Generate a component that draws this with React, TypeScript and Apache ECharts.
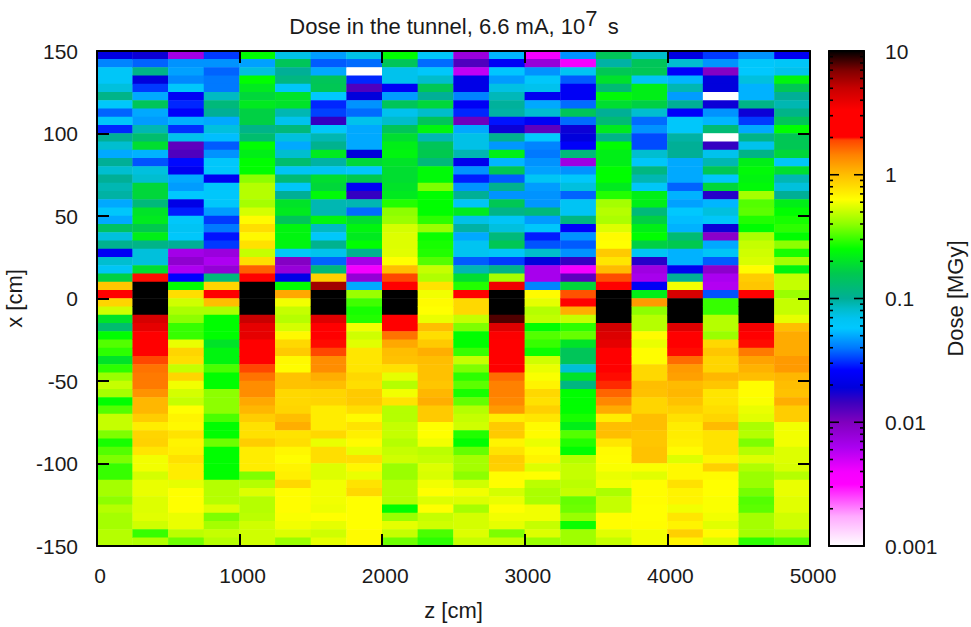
import React, { useEffect, useRef } from "react";
import * as echarts from "echarts";

const FONT = "Liberation Sans";
const TEXT = "#1a1a1a";

const zBins = [125, 375, 625, 875, 1125, 1375, 1625, 1875, 2125, 2375, 2625, 2875, 3125, 3375, 3625, 3875, 4125, 4375, 4625, 4875];

// Dose per column, from x = 147.5 (top) down to x = -147.5 (bottom). 12 = above the scale, 0.001 = below it.
const col0 = [.02,.042,.063,.063,.076,.11,.06,.037,.06,.03,.1,.08,.05,.1,.08,.1,.09,.095,.05,.06,.05,.14,.075,.105,.024,.08,.065,.17,.95,2.2,
  .85,.52,.2,.13,.25,.33,.29,.2,.29,.42,.5,.44,.25,.33,.5,.5,.38,.27,.33,.38,.3,.3,.44,.44,.4,.47,.44,.44,.47,.47];
const col1 = [.018,.037,.11,.019,.032,.05,.15,.05,.047,.09,.13,.19,.052,.035,.075,.08,.18,.18,.12,.2,.21,.16,.22,.11,.076,.076,.19,2,12,12,
  12,12,4.5,4,3.3,2.6,2.6,1.9,1.55,1.5,1.5,1.3,1.05,1.05,.9,.72,.85,.87,.75,.6,.6,.53,.58,.58,.55,.55,.56,.52,.3,.46];
const col2 = [.007,.045,.048,.043,.06,.024,.03,.025,.052,.031,.07,.012,.013,.027,.023,.05,.047,.058,.021,.029,.06,.066,.06,.1,.0068,.0085,.0062,.026,.25,.8,
  .52,.45,.4,.3,.3,.58,.85,.8,.5,.85,.6,.53,.5,.63,.68,.66,.77,.68,.7,.78,.72,.72,.57,.63,.63,.63,.58,.58,.48,.36];
const col3 = [.032,.045,.037,.04,.04,.085,.12,.1,.05,.075,.055,.036,.045,.06,.06,.023,.06,.06,.06,.047,.032,.04,.028,.032,.0075,.0062,.008,.12,.85,3.2,
  1,.45,.25,.25,.25,.2,.23,.23,.32,.25,.25,.4,.4,.4,.32,.25,.25,.36,.25,.25,.25,.25,.47,.47,.47,.55,.38,.44,.5,.47];
const col4 = [.25,.048,.075,.25,.21,.18,.21,.17,.17,.11,.13,.25,.22,.25,.25,.4,.47,.47,.44,.53,.65,.8,.66,.78,.5,.8,1.7,2.3,12,12,
  12,12,5,4,4,2.6,2.6,2.6,1.9,1.55,1.35,1.35,1.15,1.05,.9,.78,.78,.9,.72,.72,.72,.38,.47,.55,.47,.47,.48,.52,.52,.52];
const col5 = [.072,.15,.1,.115,.063,.2,.2,.09,.07,.12,.075,.05,.08,.13,.066,.125,.063,.1,.2,.21,.15,.23,.23,.23,.063,.0095,.0078,.021,.25,1.15,
  .6,.5,.47,.53,.66,.83,.92,.66,.64,.97,.97,.83,.83,.85,1,1.1,.77,.8,.67,.64,.68,.7,.83,.64,.64,.64,.62,.6,.55,.42];
const col6 = [.047,.036,.05,.15,.155,.058,.03,.033,.015,.06,.09,.105,.21,.095,.067,.19,.18,.24,.09,.09,.23,.085,.06,.105,.07,.037,.12,.88,6,12,
  12,12,4.2,2.6,2.6,2,1.9,1.35,1.35,1.1,1,.85,.85,.72,.72,.72,.83,.58,.8,.8,.55,.55,.6,.6,.6,.59,.63,.57,.52,.57];
const col7 = [.072,.038,.001,.03,.013,.019,.045,.038,.07,.05,.05,.05,.019,.18,.06,.16,.024,.015,.09,.038,.19,.23,.21,.25,.105,.0068,.004,.008,.05,.42,
  .31,.27,.28,.6,.52,.56,.75,.75,.76,.83,.8,.92,.92,.8,.65,.77,.7,.65,.57,.8,.67,.58,.77,.83,.63,.63,.63,.63,.65,.65];
const col8 = [.25,.15,.07,.07,.024,.047,.15,.07,.082,.15,.19,.22,.23,.2,.19,.19,.2,.21,.28,.4,.42,.53,.55,.55,.56,.63,1,1.9,2.4,12,
  12,12,2.5,2.5,1.55,1.15,1,.97,.78,.57,.47,.6,.77,.47,.47,.5,.5,.47,.5,.52,.42,.42,.47,.47,.47,.25,.42,.57,.5,.36];
const col9 = [.06,.038,.06,.082,.155,.1,.18,.082,.15,.23,.09,.15,.16,.12,.24,.24,.38,.25,.25,.25,.29,.42,.26,.27,.28,.33,.5,.46,.77,.6,
  .65,.63,.58,1,.8,.92,1.1,1,.98,.98,.95,1.05,1.1,.92,.92,.63,.63,.6,.48,.5,.55,.54,.6,.63,.55,.63,.5,.52,.32,.29];
const col10 = [.0075,.013,.0055,.021,.021,.042,.024,.03,.011,.05,.072,.072,.09,.022,.045,.029,.045,.1,.065,.21,.072,.095,.05,.068,.068,.036,.09,.19,.28,2.4,
  .83,.83,.5,.38,.25,.25,.3,.5,.38,.29,.34,.27,.35,.47,.5,.52,.28,.25,.35,.44,.44,.4,.52,.6,.55,.44,.53,.53,.55,.5];
const col11 = [.053,.024,.057,.047,.073,.088,.098,.095,.028,.018,.105,.046,.22,.053,.155,.036,.105,.045,.155,.11,.064,.075,.12,.155,.063,.032,.11,.44,3.7,12,
  12,12,8,4.2,3.4,2.6,2.6,2.6,2.6,1.6,1.45,1.45,1.4,1.25,.72,.92,.92,.68,.77,.9,.88,.64,.64,.53,.58,.63,.6,.57,.38,.5];
const col12 = [.004,.0078,.045,.06,.07,.023,.05,.08,.024,.012,.058,.042,.04,.045,.048,.065,.047,.045,.046,.12,.047,.06,.029,.035,.082,.019,.0065,.0065,.042,.65,
  .57,.47,.49,.25,.33,.3,.26,.52,.58,.62,.68,.83,.78,.88,.75,.65,.65,.58,.64,.68,.55,.63,.48,.45,.45,.6,.6,.5,.55,.42];
const col13 = [.045,.004,.067,.036,.024,.024,.038,.15,.038,.018,.019,.025,.12,.0072,.045,.06,.075,.037,.066,.066,.115,.025,.045,.036,.045,.015,.004,.012,.18,1.8,
  2.4,1.1,.5,.29,.35,.2,.15,.15,.078,.2,.115,.25,.25,.25,.27,.22,.33,.28,.25,.47,.5,.5,.48,.5,.35,.36,.42,.26,.43,.43];
const col14 = [.15,.095,.155,.195,.125,.24,.19,.1,.125,.21,.11,.25,.22,.22,.25,.25,.21,.28,.44,.47,.45,.55,.65,.63,.92,.75,1.02,1.85,2.4,12,
  12,12,12,4.7,4.3,4,2.7,2.7,2.5,2,1.95,1.65,1.4,1.12,.72,1,1,.75,.65,.64,.62,.58,.6,.45,.5,.5,.64,.64,.56,.5];
const col15 = [.082,.15,.155,.066,.22,.22,.17,.08,.038,.045,.034,.034,.08,.062,.115,.09,.063,.22,.22,.12,.17,.22,.25,.17,.065,.016,.0072,.0065,.024,.22,
  1.25,.4,.47,.47,.65,.58,.64,.64,.83,.83,1,.98,.85,.85,1,1,.95,.95,.97,.97,.62,.56,.64,.64,.64,.63,.63,.64,.6,.6];
const col16 = [.02,.08,.025,.053,.09,.047,.1,.025,.06,.06,.095,.1,.1,.05,.05,.05,.037,.052,.048,.058,.055,.052,.125,.16,.052,.052,.023,.1,.6,4.5,
  12,12,12,4.2,3.3,2.6,2,1.6,1.25,1.2,1.02,1.05,.97,.88,.78,.72,.72,.7,.65,.55,.66,.66,.78,.68,.68,.6,.75,.68,.88,.68];
const col17 = [.032,.045,.0095,.019,.019,.001,.018,.045,.053,.125,.001,.015,.07,.09,.155,.06,.18,.016,.053,.075,.062,.018,.009,.05,.064,.036,.0088,.0063,.006,.035,
  .3,.3,.47,.47,.42,.83,.95,.85,.85,1.05,.95,.76,.76,.8,.85,1.02,.77,.77,.77,.68,.88,.65,.63,.63,.62,.62,.6,.56,.65,.55];
const col18 = [.045,.06,.058,.075,.052,.052,.11,.018,.032,.05,.11,.07,.11,.22,.24,.23,.24,.44,.33,.34,.28,.25,.45,.5,.52,.54,.64,.9,.95,2.4,
  12,12,12,3.6,2.6,2,1.5,1.18,1.08,1,.64,.64,.62,.58,.56,.45,.47,.38,.47,.55,.46,.42,.42,.37,.33,.34,.44,.44,.44,.29];
const col19 = [.023,.063,.07,.23,.155,.1,.09,.11,.15,.25,.155,.155,.18,.063,.19,.09,.076,.1,.22,.25,.27,.29,.25,.4,.27,.44,.23,.5,.5,.42,
  .5,.5,.57,1,1.12,1.12,1.12,1.25,1.25,1.05,1,.97,1.1,.9,.9,.6,.6,.6,.55,.55,.54,.47,.58,.58,.56,.56,.52,.52,.45,.33];

const columns = [col0, col1, col2, col3, col4, col5, col6, col7, col8, col9, col10, col11, col12, col13, col14, col15, col16, col17, col18, col19];

const cbMajor = [0.001, 0.01, 0.1, 1, 10];
const cbMinor = [2, 3, 4, 5, 6, 7, 8, 9];

// Palette: position on the log scale (0 = 0.001, 1 = 10) and colour.
const paletteStops: [number, number[]][] = [
  [0, [255, 255, 255]], [0.06, [255, 170, 255]], [0.125, [255, 0, 255]], [0.15, [245, 0, 255]],
  [0.2, [170, 0, 240]], [0.25, [128, 0, 190]], [0.29, [60, 0, 190]], [0.32, [0, 0, 220]],
  [0.355, [0, 0, 255]], [0.4, [0, 120, 255]], [0.44, [0, 200, 255]], [0.46, [0, 195, 240]],
  [0.48, [0, 188, 200]], [0.5, [0, 175, 150]], [0.55, [0, 200, 80]], [0.6, [0, 255, 0]],
  [0.65, [140, 255, 0]], [0.7, [255, 255, 0]], [0.75, [255, 190, 0]], [0.79, [255, 130, 0]],
  [0.82, [255, 70, 0]], [0.826, [255, 0, 0]], [0.88, [255, 0, 0]], [0.925, [200, 0, 0]],
  [0.96, [130, 0, 0]], [1, [0, 0, 0]],
];

function paletteAt(t: number): string {
  for (let i = 1; i < paletteStops.length; i++) {
    const [t1, c1] = paletteStops[i];
    const [t0, c0] = paletteStops[i - 1];
    if (t <= t1) {
      const f = (t - t0) / (t1 - t0);
      return `rgb(${c0.map((v, k) => Math.round(v + (c1[k] - v) * f)).join(",")})`;
    }
  }
  return "rgb(0,0,0)";
}

const inRangeColors = Array.from({ length: 401 }, (_, i) => paletteAt(i / 400));

const cellData: number[][] = [];
columns.forEach((col, i) => {
  col.forEach((dose, k) => {
    const level = Math.max(-3, Math.min(1, Math.log10(dose)));
    cellData.push([zBins[i], 147.5 - k * 5, dose, level]);
  });
});

const renderCell = (_: any, api: any) => {
  const p = api.coord([api.value(0), api.value(1)]);
  const s = api.size([250, 5]);
  return {
    type: "rect",
    shape: { x: p[0] - s[0] / 2 - 0.2, y: p[1] - s[1] / 2 - 0.2, width: s[0] + 0.4, height: s[1] + 0.4 },
    style: { fill: api.visual("color") },
  };
};

const renderBar = (params: any, api: any) => {
  const a = api.coord([0, 10]);
  const b = api.coord([1, 0.001]);
  const colorStops = paletteStops.map(([t, c]) => ({ offset: 1 - t, color: `rgb(${c.join(",")})` })).reverse();
  return {
    type: "rect",
    shape: { x: a[0], y: a[1], width: b[0] - a[0], height: b[1] - a[1] },
    style: { fill: new echarts.graphic.LinearGradient(0, 0, 0, 1, colorStops) },
  };
};

const renderCbTick = (_: any, api: any) => {
  const v = api.value(0);
  const len = api.value(1);
  const y = api.coord([0, v])[1];
  const l = api.coord([0, v])[0];
  const r = api.coord([1, v])[0];
  const style = { stroke: "#000", lineWidth: 1.6 };
  return {
    type: "group",
    children: [
      { type: "line", shape: { x1: l, y1: y, x2: l + len, y2: y }, style },
      { type: "line", shape: { x1: r, y1: y, x2: r - len, y2: y }, style },
    ],
  };
};

const cbTickData: number[][] = [];
cbMajor.forEach((m) => cbTickData.push([m, 10]));
cbMajor.slice(0, 4).forEach((m) => cbMinor.forEach((n) => cbTickData.push([m * n, 4])));

export default function App() {
  const ref = useRef<HTMLDivElement>(null);
  useEffect(() => {
    const chart = echarts.init(ref.current!, null, { renderer: "svg" });
    const SIZE = 21;
    const NAME_SIZE = 22;
    const labelStyle = { fontFamily: FONT, fontSize: SIZE, color: TEXT };
    const nameStyle = { fontFamily: FONT, fontSize: NAME_SIZE, color: TEXT, fontWeight: "normal" };
    const frameLine = { show: true, onZero: false, lineStyle: { color: "#000", width: 2 } };
    const inTick = { show: true, inside: true, length: 12, lineStyle: { color: "#000", width: 2 } };
    const option: any = {
      animation: false,
      backgroundColor: "#fff",
      title: {
        text: "{t|Dose in the tunnel, 6.6 mA, 10}{s|7}{t| s}",
        left: 449,
        top: 2,
        textAlign: "center",
        textStyle: {
          fontWeight: "normal",
          rich: {
            t: { fontFamily: FONT, fontSize: NAME_SIZE, fontWeight: "normal", color: TEXT, lineHeight: 30, verticalAlign: "bottom" },
            s: { fontFamily: FONT, fontSize: NAME_SIZE, fontWeight: "normal", color: TEXT, lineHeight: 30, padding: [0, 4, 8, 0], verticalAlign: "bottom" },
          },
        },
      },
      grid: [
        { left: 97, top: 51, width: 713, height: 495, outerBoundsMode: "none" },
        { left: 829, top: 51, width: 35, height: 495, outerBoundsMode: "none" },
      ],
      xAxis: [
        {
          type: "value", gridIndex: 0, min: 0, max: 5000, interval: 1000, position: "bottom", z: 10,
          axisLine: frameLine, axisTick: inTick, splitLine: { show: false },
          axisLabel: { ...labelStyle, margin: 19, padding: [0, 0, 0, 6], showMaxLabel: true, showMinLabel: true, formatter: (v: number) => String(v) },
          name: "z [cm]", nameLocation: "middle", nameGap: 53, nameTextStyle: nameStyle,
        },
        {
          type: "value", gridIndex: 0, min: 0, max: 5000, interval: 1000, position: "top", z: 10,
          axisLine: frameLine, axisTick: inTick, axisLabel: { show: false }, splitLine: { show: false },
        },
        {
          type: "value", gridIndex: 1, min: 0, max: 1, position: "bottom", z: 10,
          axisLine: frameLine, axisTick: { show: false }, axisLabel: { show: false }, splitLine: { show: false },
        },
        {
          type: "value", gridIndex: 1, min: 0, max: 1, position: "top", z: 10,
          axisLine: frameLine, axisTick: { show: false }, axisLabel: { show: false }, splitLine: { show: false },
        },
      ],
      yAxis: [
        {
          type: "value", gridIndex: 0, min: -150, max: 150, interval: 50, position: "left", z: 10,
          axisLine: frameLine, axisTick: inTick, splitLine: { show: false },
          axisLabel: { ...labelStyle, margin: 19 },
          name: "x [cm]", nameLocation: "middle", nameGap: 67, nameRotate: 90, nameTextStyle: nameStyle,
        },
        {
          type: "value", gridIndex: 0, min: -150, max: 150, interval: 50, position: "right", z: 10,
          axisLine: frameLine, axisTick: inTick, axisLabel: { show: false }, splitLine: { show: false },
        },
        {
          type: "log", logBase: 10, gridIndex: 1, min: 0.001, max: 10, position: "right", z: 10,
          axisLine: frameLine, axisTick: { show: false }, splitLine: { show: false },
          axisLabel: { ...labelStyle, margin: 21, formatter: (v: number) => String(Number(v.toPrecision(1))) },
          name: "Dose [MGy]", nameLocation: "middle", nameGap: 80, nameRotate: 90, nameTextStyle: nameStyle,
        },
        {
          type: "log", logBase: 10, gridIndex: 1, min: 0.001, max: 10, position: "left", z: 10,
          axisLine: frameLine, axisTick: { show: false }, axisLabel: { show: false }, splitLine: { show: false },
        },
      ],
      visualMap: {
        show: false, type: "continuous", seriesIndex: 0, dimension: 3, min: -3, max: 1,
        inRange: { color: inRangeColors },
      },
      series: [
        {
          type: "custom", xAxisIndex: 0, yAxisIndex: 0, coordinateSystem: "cartesian2d", renderItem: renderCell,
          data: cellData, encode: { x: 0, y: 1 }, z: 2, silent: true, clip: true,
        },
        {
          type: "custom", xAxisIndex: 2, yAxisIndex: 2, coordinateSystem: "cartesian2d", renderItem: renderBar,
          data: [[0, 10]], encode: { x: 0, y: 1 }, z: 2, silent: true,
        },
        {
          type: "custom", xAxisIndex: 2, yAxisIndex: 2, coordinateSystem: "cartesian2d", renderItem: renderCbTick,
          data: cbTickData.map((d) => [d[0], d[1]]), encode: { y: 0 }, z: 3, silent: true,
        },
      ],
    };
    chart.setOption(option);
    return () => chart.dispose();
  }, []);
  return <div ref={ref} style={{ position: "absolute", left: 0, top: 0, width: 971, height: 627 }} />;
}
